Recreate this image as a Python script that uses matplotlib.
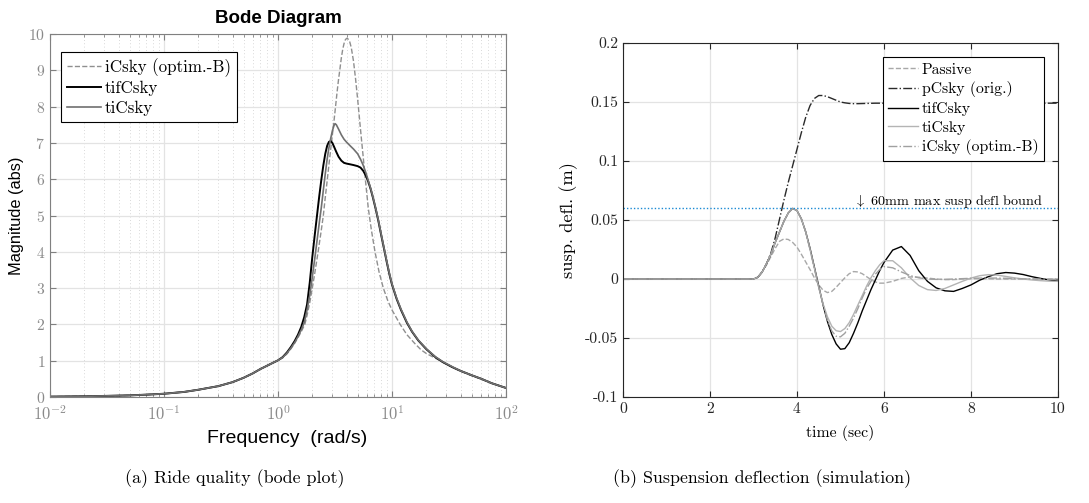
import matplotlib
matplotlib.use('Agg')
import matplotlib.pyplot as plt
from matplotlib.ticker import LogLocator, NullFormatter

plt.rcParams['font.family'] = 'cmr10'
plt.rcParams['mathtext.fontset'] = 'cm'
plt.rcParams['axes.unicode_minus'] = False
plt.rcParams['axes.formatter.use_mathtext'] = True

# %% Bode data
f_tif = [0.01, 0.02, 0.03, 0.05, 0.07, 0.1, 0.15, 0.2, 0.3, 0.4, 0.5, 0.6, 0.7, 0.8, 0.9, 1.0,
         1.1, 1.2, 1.3, 1.4, 1.5, 1.6, 1.7, 1.8, 1.9, 2.0, 2.1, 2.2, 2.3, 2.4, 2.5, 2.6, 2.7,
         2.8, 2.9, 3.0, 3.1, 3.25, 3.4, 3.6, 3.8, 4.0, 4.3, 4.6, 5.0, 5.3, 5.6, 5.9, 6.2, 6.5,
         6.8, 7.2, 7.6, 8.0, 8.5, 9.0, 9.5, 10, 11, 12, 13.5, 15, 17, 20, 24, 28, 34, 40, 50,
         61, 75, 100]
m_tif = [0.01, 0.02, 0.03, 0.045, 0.065, 0.09, 0.14, 0.2, 0.3, 0.41, 0.53, 0.65, 0.77, 0.86, 0.94, 1.01,
         1.1, 1.23, 1.38, 1.54, 1.72, 1.93, 2.2, 2.55, 3.15, 3.85, 4.45, 5.0, 5.52, 5.98, 6.38, 6.7, 6.92,
         7.03, 7.05, 7.0, 6.9, 6.75, 6.62, 6.51, 6.45, 6.43, 6.41, 6.39, 6.36, 6.32, 6.23, 6.1, 5.93, 5.73,
         5.5, 5.18, 4.85, 4.5, 4.1, 3.72, 3.38, 3.1, 2.7, 2.4, 2.05, 1.8, 1.56, 1.32, 1.1, 0.96, 0.82, 0.72, 0.6,
         0.5, 0.38, 0.25]

f_ti = [0.01, 0.02, 0.03, 0.05, 0.07, 0.1, 0.15, 0.2, 0.3, 0.4, 0.5, 0.6, 0.7, 0.8, 0.9, 1.0,
        1.1, 1.2, 1.3, 1.4, 1.5, 1.6, 1.7, 1.8, 1.9, 2.0, 2.1, 2.2, 2.3, 2.4, 2.5, 2.6, 2.7,
        2.8, 2.9, 3.0, 3.1, 3.17, 3.25, 3.4, 3.6, 3.8, 4.0, 4.3, 4.6, 5.0, 5.3, 5.6, 5.9, 6.2, 6.5,
        6.8, 7.2, 7.6, 8.0, 8.5, 9.0, 9.5, 10, 11, 12, 13.5, 15, 17, 20, 24, 28, 34, 40, 50,
        61, 75, 100]
m_ti = [0.01, 0.02, 0.03, 0.045, 0.065, 0.09, 0.14, 0.2, 0.3, 0.41, 0.53, 0.65, 0.77, 0.86, 0.94, 1.01,
        1.09, 1.21, 1.35, 1.5, 1.67, 1.85, 2.05, 2.4, 2.8, 3.3, 3.8, 4.3, 4.78, 5.22, 5.7, 6.15, 6.55,
        6.87, 7.12, 7.33, 7.48, 7.53, 7.5, 7.38, 7.22, 7.1, 7.02, 6.92, 6.83, 6.7, 6.55, 6.38, 6.18, 5.96, 5.75,
        5.52, 5.2, 4.87, 4.52, 4.12, 3.74, 3.4, 3.12, 2.72, 2.42, 2.07, 1.81, 1.57, 1.33, 1.11, 0.97, 0.83, 0.72, 0.6,
        0.5, 0.38, 0.25]

f_icsky = [0.01, 0.02, 0.03, 0.05, 0.07, 0.1, 0.15, 0.2, 0.3, 0.4, 0.5, 0.6, 0.7, 0.8, 0.9, 1.0,
           1.1, 1.2, 1.3, 1.4, 1.5, 1.6, 1.72, 1.8, 1.9, 2.0, 2.1, 2.25, 2.4, 2.5, 2.6, 2.7, 2.8,
           2.9, 3.0, 3.1, 3.2, 3.3, 3.4, 3.5, 3.6, 3.7, 3.8, 3.9, 4.0, 4.1, 4.25, 4.4, 4.6, 4.8,
           5.0, 5.2, 5.4, 5.6, 5.85, 6.2, 6.6, 7.1, 7.7, 8.4, 9.2, 10, 11.8, 13.5, 15.8, 18, 20,
           24, 28, 34, 40, 50, 61, 75, 100]
m_icsky = [0.01, 0.02, 0.03, 0.045, 0.065, 0.09, 0.14, 0.2, 0.3, 0.41, 0.53, 0.65, 0.77, 0.86, 0.94, 1.01,
           1.08, 1.19, 1.33, 1.48, 1.64, 1.8, 2.0, 2.25, 2.6, 3.0, 3.4, 4.0, 4.6, 5.0, 5.5, 5.95, 6.4,
           6.82, 7.22, 7.6, 8.0, 8.4, 8.75, 9.05, 9.35, 9.58, 9.74, 9.84, 9.88, 9.87, 9.8, 9.62, 9.25, 8.75,
           8.2, 7.64, 7.1, 6.6, 5.98, 5.2, 4.6, 4.0, 3.45, 3.0, 2.65, 2.4, 2.0, 1.72, 1.48, 1.3, 1.2,
           1.07, 0.96, 0.82, 0.71, 0.59, 0.49, 0.38, 0.25]

# %% Simulation data
t = [0, 3.0, 3.1, 3.2, 3.3, 3.4, 3.5, 3.6, 3.7, 3.8, 3.9, 4.0, 4.1, 4.2, 4.3, 4.4, 4.5, 4.6, 4.7,
     4.8, 4.9, 5.0, 5.1, 5.2, 5.3, 5.4, 5.5, 5.6, 5.7, 5.8, 5.9, 6.0, 6.2, 6.4, 6.6, 6.8, 7.0,
     7.2, 7.4, 7.6, 7.8, 8.0, 8.2, 8.4, 8.6, 8.8, 9.0, 9.2, 9.4, 9.6, 9.8, 10.0]
passive = [0, 0, 0.0015, 0.006, 0.012, 0.019, 0.026, 0.032, 0.034, 0.0335, 0.031, 0.027, 0.021,
           0.0145, 0.008, 0.001, -0.005, -0.0095, -0.0115, -0.0105, -0.007, -0.003, 0.001, 0.0045,
           0.0063, 0.006, 0.0045, 0.002, -0.0005, -0.0025, -0.0035, -0.0035, -0.002, 0.0005,
           0.0018, 0.0015, 0.0008, 0.0, -0.0005, -0.0005, 0.0, 0.0002, 0.0003, 0.0002, 0.0, 0.0,
           0.0, 0.0, 0.0, 0.0, 0.0, 0.0]
pcsky = [0, 0, 0.0015, 0.006, 0.013, 0.022, 0.035, 0.051, 0.067, 0.082, 0.096, 0.110, 0.124,
         0.137, 0.147, 0.153, 0.1555, 0.1555, 0.1545, 0.153, 0.1515, 0.150, 0.1493, 0.1488,
         0.1486, 0.1486, 0.1487, 0.1488, 0.1489, 0.149, 0.149, 0.149, 0.149, 0.149, 0.149, 0.149,
         0.149, 0.149, 0.149, 0.149, 0.149, 0.149, 0.149, 0.149, 0.149, 0.149, 0.149, 0.149,
         0.149, 0.149, 0.149, 0.149]
tifcsky = [0, 0, 0.0015, 0.006, 0.013, 0.021, 0.031, 0.040, 0.049, 0.056, 0.0598, 0.058, 0.051,
           0.040, 0.026, 0.010, -0.006, -0.022, -0.036, -0.047, -0.055, -0.0595, -0.059, -0.054,
           -0.046, -0.037, -0.027, -0.018, -0.009, -0.001, 0.007, 0.014, 0.0245, 0.0275, 0.020,
           0.007, -0.002, -0.0075, -0.010, -0.0105, -0.008, -0.005, -0.001, 0.002, 0.0045, 0.0055,
           0.005, 0.0038, 0.002, 0.0005, -0.0008, -0.0018]
ticsky = [0, 0, 0.0015, 0.006, 0.013, 0.021, 0.031, 0.040, 0.049, 0.056, 0.0598, 0.058, 0.051,
          0.040, 0.025, 0.009, -0.007, -0.021, -0.032, -0.040, -0.0438, -0.0445, -0.042, -0.037,
          -0.030, -0.022, -0.014, -0.006, 0.001, 0.007, 0.012, 0.0155, 0.0155, 0.0095, 0.001,
          -0.0055, -0.009, -0.0097, -0.008, -0.005, -0.002, 0.0008, 0.0028, 0.0037, 0.0033,
          0.0022, 0.001, 0.0, -0.0008, -0.0014, -0.0018, -0.002]
icsky_b = [0, 0, 0.0015, 0.006, 0.013, 0.021, 0.031, 0.040, 0.049, 0.056, 0.0598, 0.058, 0.051,
           0.040, 0.025, 0.009, -0.007, -0.022, -0.035, -0.044, -0.0485, -0.049, -0.046, -0.040,
           -0.033, -0.025, -0.016, -0.008, -0.002, 0.004, 0.008, 0.0105, 0.0095, 0.006, 0.003,
           0.001, 0.0, -0.0003, -0.0003, 0.0, 0.0003, 0.0006, 0.0008, 0.0008, 0.0008, 0.0006,
           0.0004, 0.0002, 0.0, 0.0, -0.0002, -0.0003]
bound = 0.06

sans = ['Liberation Sans', 'DejaVu Sans']

fig = plt.figure(figsize=(10.89, 5.03), dpi=100)

# %% (a) Bode magnitude
ax1 = fig.add_axes([0.0459, 0.2107, 0.4187, 0.7217])
ax1.semilogx(f_icsky, m_icsky, '--', color='#8f8f8f', lw=1.0, label='iCsky (optim.-B)')
ax1.semilogx(f_tif, m_tif, '-', color='black', lw=1.4, label='tifCsky')
ax1.semilogx(f_ti, m_ti, '-', color='#707070', lw=1.2, label='tiCsky')
ax1.set_xlim(1e-2, 1e2)
ax1.set_ylim(0, 10)
ax1.set_yticks(range(0, 11))
ax1.xaxis.set_minor_locator(LogLocator(base=10, subs=range(2, 10), numticks=20))
ax1.xaxis.set_minor_formatter(NullFormatter())
ax1.grid(True, which='major', color='#e3e3e3', lw=0.9)
ax1.grid(True, which='minor', axis='x', color='#cccccc', lw=0.6, linestyle=(0, (1, 3)))
ax1.set_axisbelow(True)
ax1.tick_params(which='both', direction='in', top=True, right=True, colors='#808080',
                labelcolor='#8a8a8a')
ax1.tick_params(axis='y', labelsize=11.3)
ax1.tick_params(axis='x', labelsize=12, pad=5)
ax1.tick_params(which='major', length=4)
ax1.tick_params(which='minor', length=2)
for s in ax1.spines.values():
    s.set_color('#808080')
ax1.set_title('Bode Diagram', fontfamily=sans, fontweight='bold', fontsize=13.5, pad=8)
ax1.set_ylabel('Magnitude (abs)', fontfamily=sans, fontsize=11.8, labelpad=3)
ax1.set_xlabel('Frequency  (rad/s)', fontfamily=sans, fontsize=14, labelpad=5)
ax1.xaxis.label.set_x(0.52)
leg1 = ax1.legend(loc='upper left', bbox_to_anchor=(0.024, 0.95), borderaxespad=0,
                  prop={'size': 12.2}, fancybox=False, framealpha=1,
                  edgecolor='black', handlelength=2.0, handletextpad=0.25,
                  labelspacing=0.25, borderpad=0.35)
leg1.get_frame().set_linewidth(0.8)

# %% (b) suspension deflection
ax2 = fig.add_axes([0.5721, 0.2107, 0.3994, 0.7038])
ax2.plot(t, passive, '--', color='#a8a8a8', lw=1.0, label='Passive')
ax2.plot(t, pcsky, '-.', color='#2a2a2a', lw=1.0, label='pCsky (orig.)')
ax2.plot(t, tifcsky, '-', color='black', lw=1.0, label='tifCsky')
ax2.plot(t, ticsky, '-', color='#b4b4b4', lw=1.0, label='tiCsky')
ax2.plot(t, icsky_b, '-.', color='#a0a0a0', lw=1.0, label='iCsky (optim.-B)')
ax2.axhline(bound, color='#1a8ad4', lw=1.0, linestyle=(0, (1, 1.5)))
ax2.text(5.3, bound + 0.0028, r'$\downarrow$ 60mm max susp defl bound',
         fontsize=10.2, va='baseline', ha='left')
ax2.set_xlim(0, 10)
ax2.set_ylim(-0.1, 0.2)
ax2.set_xticks([0, 2, 4, 6, 8, 10])
ax2.set_xticklabels(['0', '2', '4', '6', '8', '10'])
ax2.set_yticks([-0.1, -0.05, 0, 0.05, 0.1, 0.15, 0.2])
ax2.set_yticklabels(['-0.1', '-0.05', '0', '0.05', '0.1', '0.15', '0.2'])
ax2.grid(True, color='#e3e3e3', lw=0.9)
ax2.set_axisbelow(True)
ax2.tick_params(direction='in', top=True, right=True, length=4, labelsize=11.3,
                colors='#262626')
for s in ax2.spines.values():
    s.set_color('#262626')
ax2.set_ylabel('susp. defl. (m)', fontsize=13.3, labelpad=5)
ax2.set_xlabel('time (sec)', fontsize=11.3, labelpad=7)
leg2 = ax2.legend(loc='upper right', bbox_to_anchor=(0.968, 0.960), borderaxespad=0,
                  prop={'size': 11.3}, fancybox=False, framealpha=1,
                  edgecolor='black', handlelength=1.9, handletextpad=0.25,
                  labelspacing=0.3, borderpad=0.35)
leg2.get_frame().set_linewidth(0.8)

# captions
fig.text(0.216, 0.048, '(a) Ride quality (bode plot)', fontsize=12.9,
         ha='center', va='center')
fig.text(0.700, 0.048, '(b) Suspension deflection (simulation)',
         fontsize=12.9, ha='center', va='center')

fig.savefig('out.png', dpi=100)
